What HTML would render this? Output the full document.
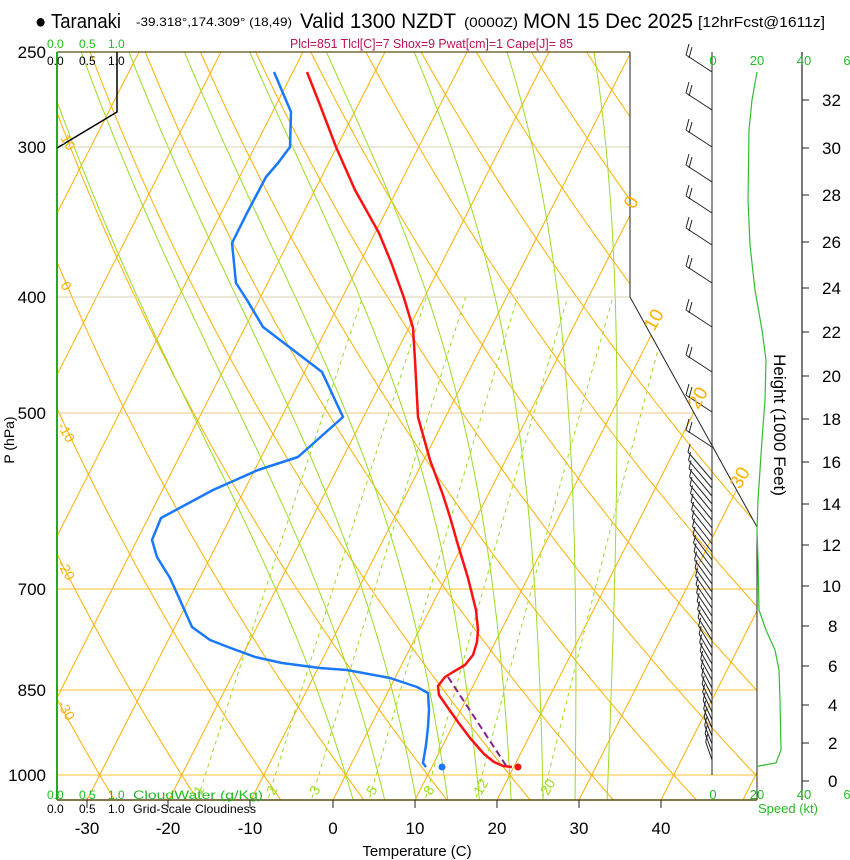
<!DOCTYPE html>
<html><head><meta charset="utf-8">
<style>
html,body{margin:0;padding:0;background:#fff;}
svg{display:block;font-family:"Liberation Sans",Arial,sans-serif;}
</style></head>
<body>
<svg id="s" width="850" height="860" viewBox="0 0 850 860" xmlns="http://www.w3.org/2000/svg">
<defs>
<clipPath id="cp"><polygon points="57,52 630,52 630,297 757,527 757,800 57,800"/></clipPath>
</defs>
<rect width="850" height="860" fill="#fff"/>
<g id="grid" clip-path="url(#cp)"></g>
<g stroke-width="1">
<line x1="57" y1="147" x2="630" y2="147" stroke="#d8d0b0"/>
<line x1="57" y1="297" x2="630" y2="297" stroke="#d8d0b0"/>
<line x1="57" y1="413" x2="693" y2="413" stroke="#e8c880"/>
<line x1="57" y1="589" x2="757" y2="589" stroke="#ffc030"/>
<line x1="57" y1="690" x2="757" y2="690" stroke="#ffc030"/>
<line x1="57" y1="775" x2="757" y2="775" stroke="#ffc030"/>
</g>
<line x1="57" y1="52" x2="630" y2="52" stroke="#5a4a10" stroke-width="1.2"/>
<polyline points="630,52 630,297 757,527 757,800" fill="none" stroke="#222" stroke-width="1"/>
<line x1="57" y1="800" x2="757" y2="800" stroke="#5a4a10" stroke-width="1.5"/>
<line x1="57" y1="52" x2="57" y2="800" stroke="#22aa22" stroke-width="2"/>
<polyline points="117,52 117,112 57,148" fill="none" stroke="#000" stroke-width="1.5"/>
<line x1="712" y1="52" x2="712" y2="775" stroke="#222" stroke-width="1"/>
<line x1="802" y1="52" x2="802" y2="800" stroke="#222" stroke-width="1.2"/>
<g id="ticks" stroke="#222" stroke-width="1"></g>
<g id="prof"></g>
<g id="barbs" stroke="#222" stroke-width="1" fill="none"></g>

<g fill="#ffb000" font-size="19">
<text transform="translate(634,210) rotate(-60)">0</text>
<text transform="translate(654,332) rotate(-60)">10</text>
<text transform="translate(698,410) rotate(-60)">20</text>
<text transform="translate(740,490) rotate(-60)">30</text>
</g>
<g fill="#ffb000" font-size="14">
<text transform="translate(60,138) rotate(60)">10</text>
<text transform="translate(60,285) rotate(60)">0</text>
<text transform="translate(57,426) rotate(60)">-10</text>
<text transform="translate(57,564) rotate(60)">-20</text>
<text transform="translate(57,704) rotate(60)">-30</text>
</g>
<g fill="#99dd22" font-size="14">
<text transform="translate(201,796) rotate(-60)">1</text>
<text transform="translate(274,796) rotate(-60)">2</text>
<text transform="translate(317,796) rotate(-60)">3</text>
<text transform="translate(374,796) rotate(-60)">5</text>
<text transform="translate(431,796) rotate(-60)">8</text>
<text transform="translate(481,796) rotate(-60)">12</text>
<text transform="translate(548,796) rotate(-60)">20</text>
</g>

<text x="35" y="28" font-size="20" textLength="86" lengthAdjust="spacingAndGlyphs">● Taranaki</text>
<text x="136" y="26" font-size="12" textLength="156" lengthAdjust="spacingAndGlyphs">-39.318°,174.309° (18,49)</text>
<text x="300" y="28" font-size="21" textLength="156" lengthAdjust="spacingAndGlyphs">Valid 1300 NZDT</text>
<text x="464" y="27" font-size="14" textLength="54" lengthAdjust="spacingAndGlyphs">(0000Z)</text>
<text x="523" y="28" font-size="21" textLength="170" lengthAdjust="spacingAndGlyphs">MON 15 Dec 2025</text>
<text x="698" y="27" font-size="15" textLength="127" lengthAdjust="spacingAndGlyphs">[12hrFcst@1611z]</text>
<text x="290" y="48" font-size="13" fill="#bb1155" textLength="283" lengthAdjust="spacingAndGlyphs">Plcl=851 Tlcl[C]=7 Shox=9 Pwat[cm]=1 Cape[J]= 85</text>

<g font-size="12" fill="#22bb22">
<text x="47" y="48">0.0</text><text x="79" y="48">0.5</text><text x="108" y="48">1.0</text>
<text x="47" y="799">0.0</text><text x="79" y="799">0.5</text><text x="108" y="799">1.0</text>
<text x="133" y="799" textLength="130" lengthAdjust="spacingAndGlyphs">CloudWater (g/Kg)</text>
</g>
<g font-size="12" fill="#000">
<text x="47" y="65">0.0</text><text x="79" y="65">0.5</text><text x="108" y="65">1.0</text>
<text x="47" y="813">0.0</text><text x="79" y="813">0.5</text><text x="108" y="813">1.0</text>
<text x="133" y="813" textLength="123" lengthAdjust="spacingAndGlyphs">Grid-Scale Cloudiness</text>
</g>

<g font-size="17" text-anchor="end" fill="#000">
<text x="46" y="58">250</text><text x="46" y="153">300</text><text x="46" y="303">400</text>
<text x="46" y="419">500</text><text x="46" y="595">700</text><text x="46" y="696">850</text>
<text x="46" y="781">1000</text>
</g>
<text transform="translate(14,440) rotate(-90)" font-size="14" text-anchor="middle">P (hPa)</text>

<g font-size="17" text-anchor="middle" fill="#000">
<text x="87" y="834">-30</text><text x="168" y="834">-20</text><text x="250" y="834">-10</text>
<text x="333" y="834">0</text><text x="415" y="834">10</text><text x="497" y="834">20</text>
<text x="579" y="834">30</text><text x="661" y="834">40</text>
</g>
<text x="417" y="856" font-size="15" text-anchor="middle">Temperature (C)</text>

<g font-size="13" fill="#22bb22" text-anchor="middle">
<text x="713" y="65">0</text><text x="757" y="65">20</text><text x="804" y="65">40</text><text x="847" y="65">6</text>
<text x="713" y="799">0</text><text x="757" y="799">20</text><text x="804" y="799">40</text><text x="847" y="799">6</text>
<text x="788" y="813">Speed (kt)</text>
</g>
<g font-size="17" fill="#000">
<text x="822" y="106">32</text><text x="822" y="154">30</text><text x="822" y="201">28</text>
<text x="822" y="248">26</text><text x="822" y="294">24</text><text x="822" y="338">22</text>
<text x="822" y="382">20</text><text x="822" y="425">18</text><text x="822" y="468">16</text>
<text x="822" y="510">14</text><text x="822" y="551">12</text><text x="822" y="592">10</text>
<text x="828" y="632">8</text><text x="828" y="672">6</text><text x="828" y="711">4</text>
<text x="828" y="749">2</text><text x="828" y="787">0</text>
</g>
<text transform="translate(774,425) rotate(90)" font-size="17" text-anchor="middle">Height (1000 Feet)</text>
</svg>
<script>
(function(){
var NS="http://www.w3.org/2000/svg";
function el(p,t,a){var e=document.createElementNS(NS,t);for(var k in a)e.setAttribute(k,a[k]);p.appendChild(e);return e;}
function yP(p){return 775-521.5*Math.log(1000/p);}
function xT(T,y){return 333+8.2*T+0.508*(800-y);}
var g=document.getElementById('grid');
for(var T=-130;T<=50;T+=10){
 el(g,'line',{x1:xT(T,800),y1:800,x2:xT(T,52),y2:52,stroke:'#ffb000','stroke-width':1});
}
for(var t0=-50;t0<=110;t0+=10){
 var th=t0+273.15,pts=[];
 for(var p=1060;p>=240;p-=10){var Tk=th*Math.pow(p/1000,0.286);var y=yP(p);pts.push(xT(Tk-273.15,y).toFixed(1)+','+y.toFixed(1));}
 el(g,'polyline',{points:pts.join(' '),fill:'none',stroke:'#ffb000','stroke-width':1});
}
function es(Tc){return 6.112*Math.exp(17.67*Tc/(Tc+243.5));}
function dTdp(T,p){var Tc=T-273.15,e=es(Tc),rs=0.622*e/(p-e),Lv=2.5e6,Rd=287,Cp=1005;
 return (Rd*T+Lv*rs)/(p*(Cp+Lv*Lv*rs*0.622/(Rd*T*T)));}
[0,4,8,12,16,20,24,28,32].forEach(function(tw){
 var T=tw+273.15,p=1000,up=[],dn=[];
 up.push([p,T]);
 while(p>250){var dp=-5;T+=dTdp(T,p)*dp;p+=dp;up.push([p,T]);}
 T=tw+273.15;p=1000;
 while(p<1060){var dp2=5;T+=dTdp(T,p)*dp2;p+=dp2;dn.unshift([p,T]);}
 var all=dn.concat(up),pts=all.map(function(a){var y=yP(a[0]);return xT(a[1]-273.15,y).toFixed(1)+','+y.toFixed(1);});
 el(g,'polyline',{points:pts.join(' '),fill:'none',stroke:'#99dd22','stroke-width':1});
});
[1,2,3,5,8,12,20].forEach(function(w){
 var pts=[];
 for(var p=1060;p>=400;p-=10){var e=p*w/(622+w);var l=Math.log(e/6.112);var Td=243.5*l/(17.67-l);var y=yP(p);pts.push(xT(Td,y).toFixed(1)+','+y.toFixed(1));}
 el(g,'polyline',{points:pts.join(' '),fill:'none',stroke:'#99dd22','stroke-width':1,'stroke-dasharray':'4,4'});
});
var tk=document.getElementById('ticks');
[87,168,250,333,415,497,579,661].forEach(function(x){el(tk,'line',{x1:x,y1:800,x2:x,y2:808});});
[100,148,195,242,288,332,376,419,462,504,545,586,626,666,705,743,781].forEach(function(y){el(tk,'line',{x1:802,y1:y,x2:809,y2:y});});
var pr=document.getElementById('prof');
var red=[[307,72],[320,105],[336,147],[355,190],[379,233],[391,262],[404,298],[413,328],[415,360],[418,417],[430,460],[443,495],[450,517],[458,545],[468,578],[476,610],[478,630],[477,642],[473,655],[465,665],[453,672],[445,677],[438,686],[439,695],[446,705],[458,722],[470,738],[484,754],[494,762],[503,766],[512,767]];
var blue=[[274,72],[291,112],[290,147],[278,163],[266,177],[247,213],[232,243],[236,283],[247,300],[263,327],[322,372],[343,417],[298,457],[258,470],[213,490],[161,518],[152,540],[157,557],[170,578],[180,600],[192,627],[210,640],[228,647],[255,657],[282,663],[320,668],[347,670],[390,678],[417,687],[428,693],[429,710],[428,727],[426,745],[423,763],[426,767]];
function pl(a){return a.map(function(p){return p.join(',');}).join(' ');}
el(pr,'polyline',{points:pl(red),fill:'none',stroke:'#ff1010','stroke-width':2.5,'stroke-linejoin':'round'});
el(pr,'polyline',{points:pl(blue),fill:'none',stroke:'#1a78ff','stroke-width':2.5,'stroke-linejoin':'round'});
el(pr,'line',{x1:448,y1:677,x2:507,y2:767,stroke:'#882288','stroke-width':2,'stroke-dasharray':'7,4'});
el(pr,'circle',{cx:518,cy:767,r:3.5,fill:'#ff1010'});
el(pr,'circle',{cx:442,cy:767,r:3.5,fill:'#1a78ff'});
var spd=[[757,72],[752,100],[749,130],[748,200],[750,245],[755,290],[762,330],[766,360],[765,400],[762,440],[760,470],[758,500],[757,530],[758,560],[759,610],[766,630],[775,650],[779,670],[780,700],[781,750],[776,763],[759,766],[757,767]];
el(pr,'polyline',{points:pl(spd),fill:'none',stroke:'#33bb33','stroke-width':1.2});
var b=document.getElementById('barbs');
[72,110,147,182,213,245,283,327,372,412,447].forEach(function(y){
 var tx=686,ty=y-17;
 el(b,'line',{x1:712,y1:y,x2:tx,y2:ty});
 el(b,'line',{x1:tx,y1:ty,x2:tx+3,y2:ty-11});
 el(b,'line',{x1:tx+3,y1:ty+3,x2:tx+6,y2:ty-8});
});
for(var y=480;y<=765;y+=8){
 var f=(y-480)/285;
 var dx=24-18*f, dy=28-10*f;
 var tx=712-dx,ty=y-dy;
 el(b,'line',{x1:712,y1:y,x2:tx,y2:ty});
 el(b,'line',{x1:tx,y1:ty,x2:tx+2,y2:ty-8});
}
})();
</script>
</body></html>
